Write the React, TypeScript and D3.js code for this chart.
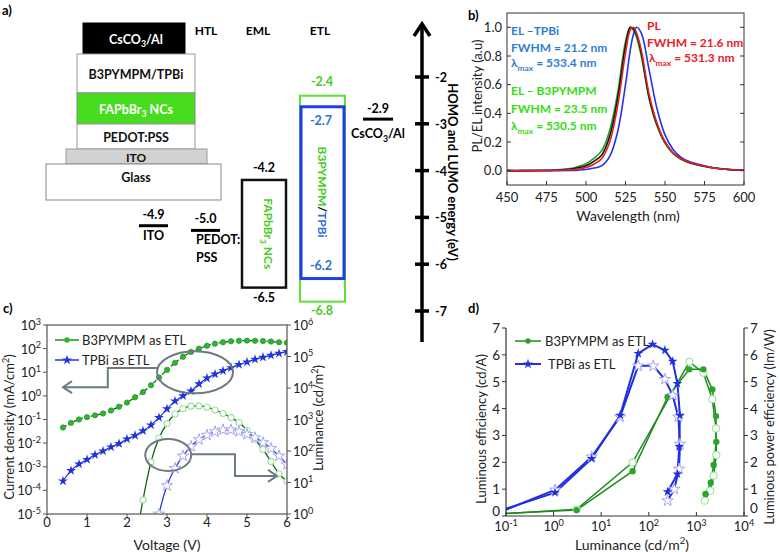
import React from 'react';
import * as d3 from 'd3';

const FONT = 'Lato, "Open Sans", "DejaVu Sans", sans-serif';

// ---------------- Panel a data ----------------
const stackLayers = ['CsCO_{3}/Al', 'B3PYMPM/TPBi', 'FAPbBr_{3} NCs', 'PEDOT:PSS', 'ITO', 'Glass'];
const layerHeaders = ['HTL', 'EML', 'ETL'];
const energyTicks = [-2, -3, -4, -5, -6, -7];
const anodeNames = ['ITO', 'PEDOT:|PSS'];
const anodeLevels = [-4.9, -5.0];
const emlLevels = [-4.2, -6.5];
const etlB3Levels = [-2.4, -6.8];
const etlTpbiLevels = [-2.7, -6.2];
const cathodeLevel = -2.9;

// ---------------- Panel b data ----------------
const wavelengths = [450, 460, 470, 480, 490, 495, 500, 505, 510, 515, 520, 525, 528, 530, 532, 535, 540, 545, 550, 555, 560, 565, 570, 575, 580, 590, 600];
const elB3pymp = [0, 0, 0.002, 0.005, 0.014, 0.028, 0.048, 0.085, 0.14, 0.28, 0.54, 0.9, 1.0, 0.98, 0.93, 0.8, 0.5, 0.31, 0.19, 0.12, 0.08, 0.056, 0.042, 0.03, 0.02, 0.008, 0.004];
const elRef = [0, 0, 0.001, 0.003, 0.01, 0.02, 0.035, 0.065, 0.11, 0.24, 0.5, 0.87, 1.0, 0.99, 0.95, 0.82, 0.51, 0.32, 0.2, 0.125, 0.085, 0.058, 0.043, 0.031, 0.02, 0.008, 0.004];
const plSpec = [0, 0, 0, 0.002, 0.006, 0.012, 0.022, 0.045, 0.085, 0.2, 0.45, 0.82, 0.98, 1.0, 0.96, 0.84, 0.53, 0.33, 0.2, 0.125, 0.085, 0.06, 0.045, 0.032, 0.02, 0.008, 0.004];
const elTpbi = [0, 0, 0, 0, 0.002, 0.004, 0.008, 0.018, 0.035, 0.1, 0.27, 0.6, 0.84, 0.95, 1.0, 0.96, 0.7, 0.43, 0.25, 0.15, 0.095, 0.065, 0.048, 0.034, 0.022, 0.009, 0.004];
const bXTicks = [450, 475, 500, 525, 550, 575, 600];
const bYTicks = [0, 0.2, 0.4, 0.6, 0.8, 1.0];

// ---------------- Panel c data ----------------
const voltage = [0.4, 0.6, 0.8, 1.0, 1.2, 1.4, 1.6, 1.8, 2.0, 2.2, 2.4, 2.6, 2.8, 3.0, 3.2, 3.4, 3.6, 3.8, 4.0, 4.2, 4.4, 4.6, 4.8, 5.0, 5.2, 5.4, 5.6, 5.8, 6.0];
const jB3 = [0.046, 0.072, 0.1, 0.126, 0.15, 0.18, 0.24, 0.35, 0.52, 0.87, 1.45, 2.8, 6.0, 12.6, 25, 45, 72, 100, 132, 162, 186, 204, 214, 219, 214, 209, 200, 186, 178];
const jTpbi = [2.5e-4, 6.9e-4, 1.3e-3, 2.0e-3, 3.2e-3, 4.6e-3, 6.8e-3, 9.5e-3, 0.0148, 0.021, 0.033, 0.058, 0.12, 0.28, 0.6, 1.0, 1.6, 3.2, 5.6, 8.3, 11.5, 15.5, 21, 27, 35, 43, 52, 63, 74];
const lumVoltB3 = [2.2, 2.4, 2.6, 2.8, 3.0, 3.2, 3.4, 3.6, 3.8, 4.0, 4.2, 4.4, 4.6, 4.8, 5.0, 5.2, 5.4, 5.6, 5.8, 6.0];
const lumB3 = [0.1, 2.8, 45, 260, 740, 1500, 2200, 2650, 2700, 2450, 2000, 1550, 1150, 800, 457, 234, 112, 46, 19, 11];
const lumVoltTpbi = [2.6, 2.8, 3.0, 3.2, 3.4, 3.6, 3.8, 4.0, 4.2, 4.4, 4.6, 4.8, 5.0, 5.2, 5.4, 5.6, 5.8, 6.0];
const lumTpbi = [0.05, 1.0, 8, 28, 70, 140, 230, 320, 410, 470, 470, 415, 340, 265, 185, 120, 70, 37];
const cXTicks = [0, 1, 2, 3, 4, 5, 6];
const cLeftExp = [-5, -4, -3, -2, -1, 0, 1, 2, 3];
const cRightExp = [0, 1, 2, 3, 4, 5, 6];

// ---------------- Panel d data ----------------
const b3LumLE = [0.05, 3.05, 45.7, 248, 710, 1400, 2160, 2580, 2620, 2300, 2000, 1550];
const b3LE = [0.08, 0.22, 1.67, 4.43, 5.46, 5.46, 4.71, 3.72, 2.76, 1.9, 1.24, 0.82];
const b3LumPE = [0.05, 3.05, 45.7, 710, 1400, 2160, 2580, 2620, 2300, 1950, 1500];
const b3PE = [0.06, 0.25, 2.0, 5.74, 5.33, 4.35, 3.26, 2.27, 1.5, 0.94, 0.57];
const tpbiLumLE = [0.05, 1.07, 6.3, 25, 60, 120, 218, 317, 400, 450, 437, 400, 248];
const tpbiLE = [0.1, 0.87, 2.14, 3.75, 6.05, 6.39, 6.17, 5.76, 4.93, 3.75, 2.58, 1.56, 0.9];
const tpbiLumPE = [0.05, 1.07, 6.3, 25, 60, 124, 218, 317, 417, 452, 432, 343, 248];
const tpbiPE = [0.02, 0.97, 2.2, 3.69, 5.59, 5.59, 5.09, 4.5, 3.69, 2.68, 1.75, 1.0, 0.57];
const dXExp = [-1, 0, 1, 2, 3, 4];
const dYTicks = [0, 1, 2, 3, 4, 5, 6, 7];

// ---------------- helpers ----------------
function rich(s: string, base: number) {
  const parts: React.ReactNode[] = [];
  const re = /([_^])\{([^}]*)\}/g;
  let last = 0;
  let m: RegExpExecArray | null;
  let shift = 0;
  let k = 0;
  while ((m = re.exec(s))) {
    if (m.index > last) {
      parts.push(<tspan key={k++} dy={-shift}>{s.slice(last, m.index)}</tspan>);
      shift = 0;
    }
    const d = m[1] === '_' ? base * 0.3 : -base * 0.4;
    parts.push(<tspan key={k++} dy={d - shift} fontSize={base * 0.7}>{m[2]}</tspan>);
    shift = d;
    last = re.lastIndex;
  }
  if (last < s.length) parts.push(<tspan key={k++} dy={-shift}>{s.slice(last)}</tspan>);
  return parts;
}

const starPath = d3.symbol().type(d3.symbolStar).size(30)() as string;
const starPathBig = d3.symbol().type(d3.symbolStar).size(40)() as string;

// ---------------- Panel A ----------------
function PanelA() {
  const yE = d3.scaleLinear().domain([-2, -7]).range([77, 311]);
  const geom = [
    { x: 83, w: 102, y: 23, h: 31, fill: '#000', tc: '#fff', stroke: '#000' },
    { x: 77, w: 118, y: 54, h: 39, fill: '#fff', tc: '#111', stroke: '#999' },
    { x: 77, w: 118, y: 93, h: 31, fill: '#46dd1e', tc: '#fff', stroke: '#888' },
    { x: 77, w: 118, y: 124, h: 25, fill: '#fff', tc: '#111', stroke: '#999' },
    { x: 66, w: 141, y: 149, h: 15, fill: '#d2d2d2', tc: '#111', stroke: '#999' },
    { x: 46, w: 175, y: 164, h: 36, fill: '#fff', tc: '#111', stroke: '#888' },
  ];
  const anodeX = [[139, 168], [191, 220]];
  const anodeOffset = 13;
  const axisX = 422;
  const green = '#46cc22';
  const blue = '#2f6fd0';
  return (
    <g fontFamily={FONT} fontWeight="bold">
      <text x={2} y={15} fontSize={13}>a)</text>
      {stackLayers.map((name, i) => {
        const g = geom[i];
        return (
          <g key={name}>
            <rect x={g.x} y={g.y} width={g.w} height={g.h} fill={g.fill} stroke={g.stroke} strokeWidth={1} />
            <text x={136} y={i === 5 ? g.y + 18 : g.y + g.h / 2 + 5} textAnchor="middle" fontSize={i === 4 ? 12 : 12.5} fill={g.tc}>
              {rich(name, 12.5)}
            </text>
          </g>
        );
      })}
      {layerHeaders.map((h, i) => (
        <text key={h} x={[206, 258, 320][i]} y={35} textAnchor="middle" fontSize={12}>{h}</text>
      ))}
      {anodeLevels.map((e, i) => {
        const yy = yE(e) + anodeOffset;
        const [a, b] = anodeX[i];
        const names = anodeNames[i].split('|');
        return (
          <g key={i}>
            <line x1={a} x2={b} y1={yy} y2={yy} stroke="#000" strokeWidth={3} />
            <text x={(a + b) / 2} y={yy - 7} textAnchor="middle" fontSize={12.5}>{e.toFixed(1)}</text>
            {names.map((n, j) => (
              <text key={n} x={i === 0 ? (a + b) / 2 : a + 5} y={yy + 14 + j * 18} textAnchor={i === 0 ? 'middle' : 'start'} fontSize={12.5}>{n}</text>
            ))}
          </g>
        );
      })}
      <rect x={242} y={yE(emlLevels[0])} width={44} height={yE(emlLevels[1]) - yE(emlLevels[0])} fill="none" stroke="#111" strokeWidth={2.5} />
      <text x={264} y={yE(emlLevels[0]) - 8} textAnchor="middle" fontSize={12.5}>{emlLevels[0].toFixed(1)}</text>
      <text x={264} y={yE(emlLevels[1]) + 14} textAnchor="middle" fontSize={12.5}>{emlLevels[1].toFixed(1)}</text>
      <text transform={`translate(264,${(yE(emlLevels[0]) + yE(emlLevels[1])) / 2}) rotate(90)`} textAnchor="middle" dy={4} fontSize={12} fill={green}>
        {rich('FAPbBr_{3} NCs', 12)}
      </text>
      <rect x={300} y={yE(etlB3Levels[0])} width={45} height={yE(etlB3Levels[1]) - yE(etlB3Levels[0])} fill="none" stroke="#5ee03a" strokeWidth={2} />
      <rect x={301} y={yE(etlTpbiLevels[0]) - 3} width={43} height={yE(etlTpbiLevels[1]) - yE(etlTpbiLevels[0]) + 8} fill="none" stroke="#1f3fe0" strokeWidth={3} />
      <text x={322} y={yE(etlB3Levels[0]) - 10} textAnchor="middle" fontSize={12.5} fill={green}>{etlB3Levels[0].toFixed(1)}</text>
      <text x={322} y={yE(etlB3Levels[1]) + 13} textAnchor="middle" fontSize={12.5} fill={green}>{etlB3Levels[1].toFixed(1)}</text>
      <text x={321} y={yE(etlTpbiLevels[0]) + 15} textAnchor="middle" fontSize={12.5} fill={blue}>{etlTpbiLevels[0].toFixed(1)}</text>
      <text x={321} y={yE(etlTpbiLevels[1]) - 4} textAnchor="middle" fontSize={12.5} fill={blue}>{etlTpbiLevels[1].toFixed(1)}</text>
      <text transform={`translate(322,192) rotate(90)`} textAnchor="middle" dy={4} fontSize={12}>
        <tspan fill={green}>B3PYMPM</tspan><tspan fill="#111">/</tspan><tspan fill={blue}>TPBi</tspan>
      </text>
      <line x1={363} x2={393} y1={yE(cathodeLevel)} y2={yE(cathodeLevel)} stroke="#000" strokeWidth={3} />
      <text x={378} y={yE(cathodeLevel) - 6} textAnchor="middle" fontSize={12.5}>{cathodeLevel.toFixed(1)}</text>
      <text x={378} y={yE(cathodeLevel) + 19} textAnchor="middle" fontSize={12.5}>{rich('CsCO_{3}/Al', 12.5)}</text>
      <line x1={axisX} x2={axisX} y1={342} y2={24} stroke="#000" strokeWidth={3.5} />
      <polyline points={`${axisX - 8},${36} ${axisX},${24} ${axisX + 8},${36}`} fill="none" stroke="#000" strokeWidth={3.5} />
      {energyTicks.map(t => (
        <g key={t}>
          <line x1={axisX - 7} x2={axisX + 7} y1={yE(t)} y2={yE(t)} stroke="#000" strokeWidth={3.5} />
          <text x={435} y={yE(t) + 5} fontSize={12.5}>{t}</text>
        </g>
      ))}
      <text transform="translate(452,172) rotate(90)" textAnchor="middle" dy={4} fontSize={13}>HOMO and LUMO energy (eV)</text>
    </g>
  );
}

// ---------------- Panel B ----------------
function PanelB() {
  const x = d3.scaleLinear().domain([450, 600]).range([507, 744]);
  const y = d3.scaleLinear().domain([-0.1, 1.1]).range([185, 13]);
  const mk = (vals: number[]) =>
    d3.line<number>().x((_, i) => x(wavelengths[i])).y(d => y(d)).curve(d3.curveCatmullRom.alpha(0.5))(vals) as string;
  const series = [
    { v: elB3pymp, c: '#1ea01e' },
    { v: elTpbi, c: '#2233ee' },
    { v: elRef, c: '#111' },
    { v: plSpec, c: '#e8202a' },
  ];
  const tick = '#333';
  return (
    <g fontFamily={FONT}>
      <text x={468} y={20} fontSize={13} fontWeight="bold">b)</text>
      <defs>
        <clipPath id="clipB"><rect x={507} y={13} width={237} height={172} /></clipPath>
      </defs>
      <g clipPath="url(#clipB)">
        {series.map((s, i) => <path key={i} d={mk(s.v)} fill="none" stroke={s.c} strokeWidth={1.6} />)}
      </g>
      <rect x={507} y={13} width={237} height={172} fill="none" stroke="#333" strokeWidth={1} />
      {bXTicks.map(t => (
        <g key={t}>
          <line x1={x(t)} x2={x(t)} y1={185} y2={181} stroke={tick} />
          <text x={x(t)} y={202} textAnchor="middle" fontSize={13} fill="#222">{t}</text>
        </g>
      ))}
      {bYTicks.map(t => (
        <g key={t}>
          <line x1={507} x2={511} y1={y(t)} y2={y(t)} stroke={tick} />
          <line x1={744} x2={740} y1={y(t)} y2={y(t)} stroke={tick} />
          <text x={502} y={y(t) + 4.5} textAnchor="end" fontSize={13} fill="#222">{t.toFixed(1)}</text>
        </g>
      ))}
      <text x={628} y={221} textAnchor="middle" fontSize={14} fill="#222">Wavelength (nm)</text>
      <text transform="translate(478,96) rotate(-90)" textAnchor="middle" dy={4} fontSize={13} fill="#222">PL/EL intensity (a.u)</text>
      <g fontWeight="bold" fontSize={12}>
        <g fill="#2f7fd0">
          <text x={511} y={35}>EL –TPBi</text>
          <text x={511} y={52}>FWHM = 21.2 nm</text>
          <text x={511} y={67}>{rich('λ_{max} = 533.4 nm', 12)}</text>
        </g>
        <g fill="#33dd11">
          <text x={511} y={95}>EL – B3PYMPM</text>
          <text x={511} y={113}>FWHM = 23.5 nm</text>
          <text x={511} y={130}>{rich('λ_{max} = 530.5 nm', 12)}</text>
        </g>
        <g fill="#e8202a">
          <text x={647} y={30}>PL</text>
          <text x={647} y={47}>FWHM = 21.6 nm</text>
          <text x={649} y={62}>{rich('λ_{max} = 531.3 nm', 12)}</text>
        </g>
      </g>
    </g>
  );
}

// ---------------- Panel C ----------------
function PanelC() {
  const x = d3.scaleLinear().domain([0, 6]).range([47, 287]);
  const yL = d3.scaleLog().domain([1e-5, 1e3]).range([514, 325]);
  const yR = d3.scaleLog().domain([1, 1e6]).range([514, 325]);
  const ln = (xs: number[], ys: number[], sc: d3.ScaleLogarithmic<number, number>) =>
    d3.line<number>().x((_, i) => x(xs[i])).y(d => sc(d)).curve(d3.curveMonotoneX)(ys) as string;
  const grey = '#6b7b82';
  const e1 = { cx: x(3.7), cy: yL(10), rx: 38, ry: 21 };
  const e2 = { cx: x(3.03), cy: yR(75), rx: 23, ry: 16 };
  const a1y1 = yL(10 ** 1.18), a1y2 = yL(10 ** 0.37);
  const a2y1 = yR(10 ** 1.9), a2y2 = yR(10 ** 1.21);
  return (
    <g fontFamily={FONT}>
      <text x={3} y={313} fontSize={13} fontWeight="bold">c)</text>
      <defs>
        <clipPath id="clipC"><rect x={47} y={325} width={240} height={189} /></clipPath>
      </defs>
      <g clipPath="url(#clipC)">
        <path d={ln(lumVoltB3, lumB3, yR)} fill="none" stroke="#0f5f0f" strokeWidth={1.3} />
        {lumB3.map((v, i) => <circle key={i} cx={x(lumVoltB3[i])} cy={yR(v)} r={3} fill="#fff" stroke="#9ee09e" strokeWidth={1.1} />)}
        <path d={ln(lumVoltTpbi, lumTpbi, yR)} fill="none" stroke="#2a3ae0" strokeWidth={1.3} />
        {lumTpbi.map((v, i) => <path key={i} d={starPathBig} transform={`translate(${x(lumVoltTpbi[i])},${yR(v)})`} fill="#fff" stroke="#a4a4f0" strokeWidth={1} />)}
        <path d={ln(voltage, jB3, yL)} fill="none" stroke="#1a4d1a" strokeWidth={1.2} strokeDasharray="4,2" />
        {jB3.map((v, i) => <circle key={i} cx={x(voltage[i])} cy={yL(v)} r={2.7} fill="#2db52d" stroke="#1f8f1f" strokeWidth={0.6} />)}
        <path d={ln(voltage, jTpbi, yL)} fill="none" stroke="#2233dd" strokeWidth={1.2} />
        {jTpbi.map((v, i) => <path key={i} d={starPath} transform={`translate(${x(voltage[i])},${yL(v)})`} fill="#2233dd" />)}
      </g>
      <rect x={47} y={325} width={240} height={189} fill="none" stroke="#555" strokeWidth={1.2} />
      <ellipse cx={e1.cx} cy={e1.cy} rx={e1.rx} ry={e1.ry} fill="none" stroke={grey} strokeWidth={2} />
      <polyline points={`${e1.cx - e1.rx},${a1y1} ${x(1.52)},${a1y1} ${x(1.52)},${a1y2} ${x(0.4)},${a1y2}`} fill="none" stroke={grey} strokeWidth={2} />
      <polyline points={`${x(0.4) + 9},${a1y2 - 6} ${x(0.4)},${a1y2} ${x(0.4) + 9},${a1y2 + 6}`} fill="none" stroke={grey} strokeWidth={2} />
      <ellipse cx={e2.cx} cy={e2.cy} rx={e2.rx} ry={e2.ry} fill="none" stroke={grey} strokeWidth={2} />
      <polyline points={`${e2.cx + e2.rx},${a2y1} ${x(4.7)},${a2y1} ${x(4.7)},${a2y2} ${x(5.75)},${a2y2}`} fill="none" stroke={grey} strokeWidth={2} />
      <polyline points={`${x(5.75) - 9},${a2y2 - 6} ${x(5.75)},${a2y2} ${x(5.75) - 9},${a2y2 + 6}`} fill="none" stroke={grey} strokeWidth={2} />
      {cXTicks.map(t => (
        <g key={t}>
          <line x1={x(t)} x2={x(t)} y1={514} y2={518} stroke="#555" />
          <text x={x(t)} y={527} textAnchor="middle" fontSize={13} fill="#222">{t}</text>
        </g>
      ))}
      {cLeftExp.map(e => (
        <g key={e}>
          <line x1={43} x2={47} y1={yL(10 ** e)} y2={yL(10 ** e)} stroke="#555" />
          <text x={41} y={yL(10 ** e) + 5} textAnchor="end" fontSize={13} fill="#222">{rich(`10^{${e}}`, 13)}</text>
        </g>
      ))}
      {cRightExp.map(e => (
        <g key={e}>
          <line x1={287} x2={291} y1={yR(10 ** e)} y2={yR(10 ** e)} stroke="#555" />
          <text x={293} y={yR(10 ** e) + 5} fontSize={13} fill="#222">{rich(`10^{${e}}`, 13)}</text>
        </g>
      ))}
      <text x={167} y={550} textAnchor="middle" fontSize={14} fill="#222">Voltage (V)</text>
      <text transform="translate(14,427) rotate(-90)" textAnchor="middle" dy={4} fontSize={13} fill="#222">{rich('Current density (mA/cm^{2})', 13)}</text>
      <text transform="translate(323,418) rotate(-90)" textAnchor="middle" dy={4} fontSize={13} fill="#222">{rich('Luminance (cd/m^{2})', 13)}</text>
      <line x1={55} x2={79} y1={340} y2={340} stroke="#1f8f1f" strokeWidth={1.5} />
      <circle cx={67} cy={340} r={2.7} fill="#2db52d" />
      <text x={82} y={345} fontSize={13} fill="#222">B3PYMPM as ETL</text>
      <line x1={55} x2={79} y1={360} y2={360} stroke="#2233dd" strokeWidth={1.5} />
      <path d={starPath} transform="translate(67,360)" fill="#2233dd" />
      <text x={82} y={365} fontSize={13} fill="#222">TPBi as ETL</text>
    </g>
  );
}

// ---------------- Panel D ----------------
function PanelD() {
  const x = d3.scaleLog().domain([0.1, 1e4]).range([506, 744]);
  const y = d3.scaleLinear().domain([0, 7]).range([516, 328]);
  const ln = (xs: number[], ys: number[]) =>
    d3.line<number>().x((_, i) => x(xs[i])).y(d => y(d))(ys) as string;
  const green = '#1e8c1e';
  const blue = '#2030e0';
  const vis = (v: number) => v >= 0.1;
  return (
    <g fontFamily={FONT}>
      <text x={468} y={313} fontSize={13} fontWeight="bold">d)</text>
      <defs>
        <clipPath id="clipD"><rect x={506} y={320} width={238} height={196} /></clipPath>
      </defs>
      <g clipPath="url(#clipD)">
        <path d={ln(b3LumPE, b3PE)} fill="none" stroke={green} strokeWidth={1.5} />
        <path d={ln(b3LumLE, b3LE)} fill="none" stroke={green} strokeWidth={1.5} />
        <path d={ln(tpbiLumPE, tpbiPE)} fill="none" stroke={blue} strokeWidth={2} />
        <path d={ln(tpbiLumLE, tpbiLE)} fill="none" stroke={blue} strokeWidth={2} />
        {b3PE.map((v, i) => vis(b3LumPE[i]) && <circle key={i} cx={x(b3LumPE[i])} cy={y(v)} r={3.5} fill="#fff" stroke="#a8e6a8" strokeWidth={1.2} />)}
        {b3LE.map((v, i) => vis(b3LumLE[i]) && <circle key={i} cx={x(b3LumLE[i])} cy={y(v)} r={3.2} fill="#2aa52a" />)}
        {tpbiPE.map((v, i) => vis(tpbiLumPE[i]) && <path key={i} d={starPathBig} transform={`translate(${x(tpbiLumPE[i])},${y(v)})`} fill="#fff" stroke="#a4a4f0" strokeWidth={1} />)}
        {tpbiLE.map((v, i) => vis(tpbiLumLE[i]) && <path key={i} d={starPath} transform={`translate(${x(tpbiLumLE[i])},${y(v)})`} fill={blue} />)}
      </g>
      <line x1={506} x2={506} y1={328} y2={516} stroke="#333" strokeWidth={1.2} />
      <line x1={744} x2={744} y1={328} y2={516} stroke="#333" strokeWidth={1.2} />
      <line x1={506} x2={744} y1={516} y2={516} stroke="#333" strokeWidth={1.2} />
      {dXExp.map(e => (
        <g key={e}>
          <line x1={x(10 ** e)} x2={x(10 ** e)} y1={516} y2={512} stroke="#333" />
          <text x={x(10 ** e)} y={531} textAnchor="middle" fontSize={13} fill="#222">{rich(`10^{${e}}`, 13)}</text>
        </g>
      ))}
      {dYTicks.map(t => (
        <g key={t}>
          <line x1={502} x2={506} y1={y(t)} y2={y(t)} stroke="#333" />
          <line x1={744} x2={748} y1={y(t)} y2={y(t)} stroke="#333" />
          <text x={500} y={y(t) + (t === 0 ? 0 : 5)} textAnchor="end" fontSize={13.5} fill="#222">{t}</text>
          <text x={750} y={y(t) + (t === 0 ? -3 : 5)} fontSize={13.5} fill="#222">{t}</text>
        </g>
      ))}
      <text x={632} y={550} textAnchor="middle" fontSize={14} fill="#222">{rich('Luminance (cd/m^{2})', 14)}</text>
      <text transform="translate(482,429) rotate(-90)" textAnchor="middle" dy={4} fontSize={13} fill="#222">Luminous efficiency (cd/A)</text>
      <text transform="translate(770,427) rotate(-90)" textAnchor="middle" dy={4} fontSize={13} fill="#222">Luminous power efficiency (lm/W)</text>
      <line x1={515} x2={541} y1={341} y2={341} stroke={green} strokeWidth={1.5} />
      <circle cx={528} cy={341} r={2.8} fill="#2aa52a" />
      <text x={545} y={346} fontSize={13} fill="#222">B3PYMPM as ETL</text>
      <line x1={515} x2={541} y1={364} y2={364} stroke={blue} strokeWidth={2} />
      <path d={starPath} transform="translate(528,364)" fill={blue} />
      <text x={548} y={369} fontSize={13} fill="#222">TPBi as ETL</text>
    </g>
  );
}

export default function App() {
  return (
    <svg width={780} height={552} style={{ position: 'absolute', left: 0, top: 0, background: '#fff' }}>
      <PanelA />
      <PanelB />
      <PanelC />
      <PanelD />
    </svg>
  );
}
